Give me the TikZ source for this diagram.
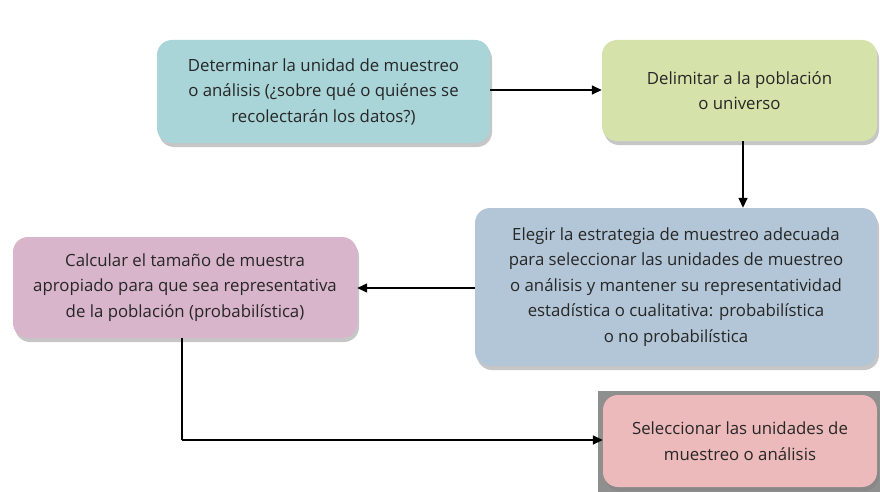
\documentclass[tikz,border=0pt]{standalone}
\usepackage{fontspec}
\setmainfont{Open Sans}
\usetikzlibrary{shadows,arrows.meta}
\definecolor{cteal}{HTML}{A9D4D8}
\definecolor{cgreen}{HTML}{D5E3AA}
\definecolor{cblue}{HTML}{B3C6D7}
\definecolor{cmauve}{HTML}{D9B5CB}
\definecolor{csalmon}{HTML}{EDBABB}
\definecolor{cgray}{HTML}{8F8F8F}
\definecolor{ctext}{HTML}{262626}
\tikzset{
  box/.style={rectangle, rounded corners=15pt, align=center, text=ctext,
    font=\fontsize{16.8}{25.5}\selectfont, inner sep=0pt,
    drop shadow={opacity=0.45, shadow xshift=2pt, shadow yshift=-4pt}},
  conn/.style={draw=black, line width=1.5pt, -{Triangle[length=10pt,width=9pt]}},
  plain/.style={draw=black, line width=1.5pt}
}
\begin{document}
\begin{tikzpicture}[x=1pt,y=-1pt]
\useasboundingbox (0,0) rectangle (880,492);
\fill[cgray] (598,391) rectangle (880,492);
\node[box, fill=cteal, minimum width=333pt, minimum height=103pt] (b1) at (323.5,91.5)
  {Determinar la unidad de muestreo\\o análisis (¿sobre qué o quiénes se\\recolectarán los datos?)};
\node[box, fill=cgreen, minimum width=275pt, minimum height=101pt] (b2) at (739.5,90.5)
  {Delimitar a la población\\o universo};
\node[box, fill=cblue, minimum width=402pt, minimum height=158pt] (b3) at (676,287)
  {Elegir la estrategia de muestreo adecuada\\para seleccionar las unidades de muestreo\\o análisis y mantener su representatividad\\estadística o cualitativa: probabilística\\o no probabilística};
\node[box, fill=cmauve, minimum width=344pt, minimum height=101pt] (b4) at (185,287.5)
  {Calcular el tamaño de muestra\\apropiado para que sea representativa\\de la población (probabilística)};
\node[box, fill=csalmon, minimum width=274pt, minimum height=92pt, drop shadow={opacity=0}] (b5) at (740,441)
  {Seleccionar las unidades de\\muestreo o análisis};
\draw[conn] (b1.east |- 0,90) -- (b2.west |- 0,90);
\draw[conn] (743,0 |- b2.south) -- (743,0 |- b3.north);
\draw[conn] (b3.west |- 0,288) -- (b4.east |- 0,288);
\coordinate (k) at (182,440);
\draw[plain] (182,0 |- b4.south) -- (k);
\draw[conn] (k) -- (b5.west |- k);
\end{tikzpicture}
\end{document}
